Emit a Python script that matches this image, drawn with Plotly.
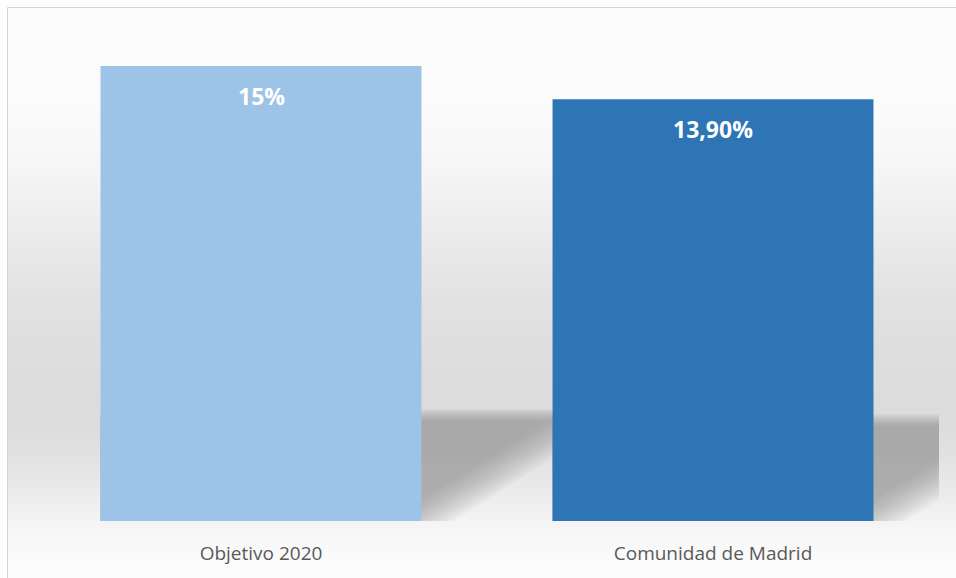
import numpy as np
import plotly.graph_objects as go

# ---- data ----
categories = ["Objetivo 2020", "Comunidad de Madrid"]
values = [15, 13.9]
value_labels = ["15%", "13,90%"]
bar_colors = ["#9DC3E6", "#2E75B6"]

# ---- layout geometry (pixels) ----
W, H = 956, 578
ML, MR, MT, MB = 35, 17, 8, 57
PW = W - ML - MR          # plot width
PH = H - MT - MB          # plot height
BASE = H - MB             # pixel y of value 0
BARGAP = 0.29
YMAX = max(values) * PH / 455.0
PX_PER_X = PW / len(categories)
PX_PER_Y = PH / YMAX

def px_to_paper_x(px):
    return (px - ML) / PW

def px_to_paper_y(py):
    return (BASE - py) / PH

fig = go.Figure()
fig.add_trace(go.Bar(
    x=categories, y=values,
    marker=dict(color=bar_colors, line=dict(width=0)),
    hoverinfo="skip", showlegend=False,
))

shapes = []

# ---- background vertical gradient (decoration) ----
stops_y = [7, 100, 150, 200, 250, 300, 350, 400, 430, 460, 490, 515, 540, 565, 590]
stops_g = [252, 251, 248, 241, 233, 226, 222, 220, 221, 226, 234, 242, 248, 251, 252]
step = 4
for y0 in range(8, 590, step):
    g = int(round(np.interp(y0 + step / 2, stops_y, stops_g)))
    shapes.append(dict(
        type="rect", xref="paper", yref="paper", layer="below",
        x0=px_to_paper_x(8), x1=px_to_paper_x(W + 5),
        y0=px_to_paper_y(y0 + step + 0.5), y1=px_to_paper_y(y0),
        fillcolor=f"rgb({g},{g},{g})", line=dict(width=0),
    ))

# ---- floor shadows cast by the bars (decoration, blurred by layering) ----
half = (1 - BARGAP) / 2
slope = 0.64
sin_a = slope / np.sqrt(1 + slope ** 2)
N = 11
shadow_tops = [106, 101]
for i in range(len(categories)):
    L = i - half
    R = i + half
    T = shadow_tops[i]
    for k in range(N):
        frac = k / (N - 1) - 0.5          # -0.5 .. 0.5
        e = frac * 34                      # perpendicular shift of diagonal (px)
        tt = T - frac * 12                 # top edge (px above base)
        ex = e / sin_a
        xd0 = R - ex / PX_PER_X
        xt = xd0 + (tt / slope) / PX_PER_X
        ytop = tt / PX_PER_Y
        path = (f"M {L},0 L {xd0},0 L {xt},{ytop} L {L},{ytop} Z")
        shapes.append(dict(
            type="path", xref="x", yref="y", layer="below", path=path,
            fillcolor="rgba(140,140,140,0.074)", line=dict(width=0),
        ))

# ---- chart border ----
shapes.append(dict(
    type="rect", xref="paper", yref="paper", layer="above",
    x0=px_to_paper_x(7.5), x1=px_to_paper_x(W + 10),
    y0=px_to_paper_y(H + 10), y1=px_to_paper_y(7.5),
    fillcolor="rgba(0,0,0,0)", line=dict(color="#d4d4d4", width=1),
))

# ---- value labels inside bars ----
annotations = []
for c, v, t in zip(categories, values, value_labels):
    annotations.append(dict(
        x=c, y=v, xref="x", yref="y", text=t, showarrow=False,
        yanchor="middle", yshift=-30,
        font=dict(family="Open Sans", size=23, color="white", weight="bold"),
    ))

fig.update_layout(
    width=W, height=H, autosize=False,
    margin=dict(l=ML, r=MR, t=MT, b=MB, pad=0),
    paper_bgcolor="#fdfdfd", plot_bgcolor="rgba(0,0,0,0)",
    bargap=BARGAP,
    shapes=shapes, annotations=annotations,
    xaxis=dict(range=[-0.5, len(categories) - 0.5], autorange=False,
               showgrid=False, zeroline=False, showline=False, ticks="",
               tickfont=dict(family="Open Sans", size=19, color="#595959"),
               ticklabelstandoff=19),
    yaxis=dict(range=[0, YMAX], autorange=False, showgrid=False, zeroline=False,
               showline=False, showticklabels=False, ticks=""),
    showlegend=False,
)

fig.write_html(
    "out.html",
    config={"displayModeBar": False},
    post_script="document.body.style.margin='0';document.body.style.overflow='hidden';",
)
